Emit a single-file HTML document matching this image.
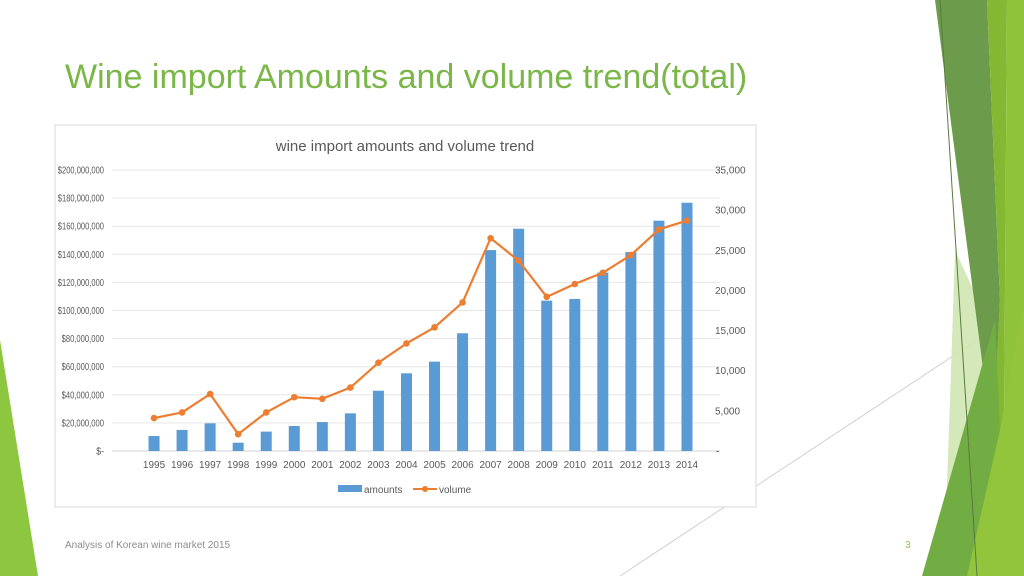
<!DOCTYPE html>
<html><head><meta charset="utf-8"><style>
html,body{margin:0;padding:0;background:#fff;}
body{width:1024px;height:576px;overflow:hidden;position:relative;font-family:"Liberation Sans",sans-serif;}
</style></head><body>
<svg width="1024" height="576" viewBox="0 0 1024 576" xmlns="http://www.w3.org/2000/svg">
  <g>
    <polygon points="0,340 38,576 0,576" fill="#8dc63f"/>
    <line x1="620" y1="576" x2="1000" y2="325" stroke="#d0d0d0" stroke-width="1"/>
    <polygon points="955,250 978,300 1000,330 995,470 945,540 950,400" fill="#cfe6b2" opacity="0.9"/>
    <polygon points="935,0 987,0 1000,300 993,445" fill="#6d9b4c"/>
    <polygon points="987,0 1007,0 1003,576 985,576 1000,300" fill="#84b833"/>
    <polygon points="1007,0 1024,0 1024,576 1003,576" fill="#8fc43a"/>
    <polygon points="922,576 995,320 1000,430 980,576" fill="#72ad44"/>
    <polygon points="967,576 1000,430 1024,300 1024,576" fill="#92c53b"/>
    <line x1="940" y1="0" x2="977" y2="576" stroke="#5a7a40" stroke-width="1"/>
  </g>
  <rect x="55" y="125" width="701" height="382" fill="#fff" stroke="#d9d9d9" stroke-width="1"/>
  <text x="65" y="88" font-size="34" fill="#7ab648">Wine import Amounts and volume trend(total)</text>
  <text x="405" y="151" font-size="15" fill="#595959" text-anchor="middle">wine import amounts and volume trend</text>
  <g id="grid"></g>
  <g id="bars"></g>
  <g id="line"></g>
  <g id="axes" font-size="10" fill="#595959"></g>
  <g>
    <rect x="338" y="485" width="24" height="7" fill="#5b9bd5"/>
    <text x="364" y="493" font-size="10" fill="#595959">amounts</text>
    <line x1="413" y1="489" x2="437" y2="489" stroke="#ed7d31" stroke-width="2"/>
    <circle cx="425" cy="489" r="3" fill="#ed7d31"/>
    <text x="439" y="493" font-size="10" fill="#595959">volume</text>
  </g>
  <text x="65" y="548" font-size="10" fill="#8c8c8c">Analysis of Korean wine market 2015</text>
  <text x="905" y="548" font-size="10" fill="#8dc63f">3</text>
</svg>
<script>
const years=["1995","1996","1997","1998","1999","2000","2001","2002","2003","2004","2005","2006","2007","2008","2009","2010","2011","2012","2013","2014"];
const amounts=[10.7,15,19.7,5.9,13.8,17.8,20.6,26.8,42.9,55.3,63.6,83.8,143,158.2,107,108.2,127,141.6,163.9,176.7];
const volume=[4.1,4.8,7.1,2.1,4.8,6.7,6.5,7.9,11.0,13.4,15.4,18.5,26.5,23.7,19.2,20.8,22.2,24.4,27.6,28.7];
const leftTicks=["$-","$20,000,000","$40,000,000","$60,000,000","$80,000,000","$100,000,000","$120,000,000","$140,000,000","$160,000,000","$180,000,000","$200,000,000"];
const rightTicks=["-","5,000","10,000","15,000","20,000","25,000","30,000","35,000"];
const NS="http://www.w3.org/2000/svg";
const gx0=112,gx1=720,cx0=140,cx1=701,y0=451,y1=170;
const yL=v=>y0-(v/200)*(y0-y1);
const yR=v=>y0-(v/35)*(y0-y1);
const xC=i=>cx0+(i+0.5)*(cx1-cx0)/years.length;
function mk(t,a,p){const e=document.createElementNS(NS,t);for(const k in a)e.setAttribute(k,a[k]);p.appendChild(e);return e;}
const grid=document.getElementById('grid'),axes=document.getElementById('axes');
leftTicks.forEach((t,i)=>{const y=yL(i*20);
  const l=mk('line',{x1:gx0,x2:gx1,y1:y,y2:y,stroke:i==0?'#d0d0d0':'#e6e6e6','stroke-width':1},grid);
  
  
  const tx=mk('text',{x:104,y:y+3.5,'text-anchor':'end','font-size':10.5,textLength:(t.length*3.85).toFixed(1),lengthAdjust:'spacingAndGlyphs'},axes);tx.textContent=t;
  
  
});
rightTicks.forEach((t,i)=>{const y=yR(i*5);
  const tx=mk('text',{x:t=='-'?716:715,y:y+3.5},axes);tx.textContent=t;
  
  
});
const bars=document.getElementById('bars'),line=document.getElementById('line');
years.forEach((yr,i)=>{const x=xC(i);
  const r=mk('rect',{x:x-5.5,y:yL(amounts[i]),width:11,height:y0-yL(amounts[i]),fill:'#5b9bd5'},bars);
  
  
  const tx=mk('text',{x:x,y:468,'text-anchor':'middle'},axes);tx.textContent=yr;
  
  
});
const pl=mk('polyline',{points:volume.map((v,i)=>xC(i)+','+yR(v)).join(' '),fill:'none',stroke:'#ed7d31','stroke-width':2.2},line);


volume.forEach((v,i)=>{const c=mk('circle',{cx:xC(i),cy:yR(v),r:3.3,fill:'#ed7d31'},line);
  
  
});
</script>
</body></html>
